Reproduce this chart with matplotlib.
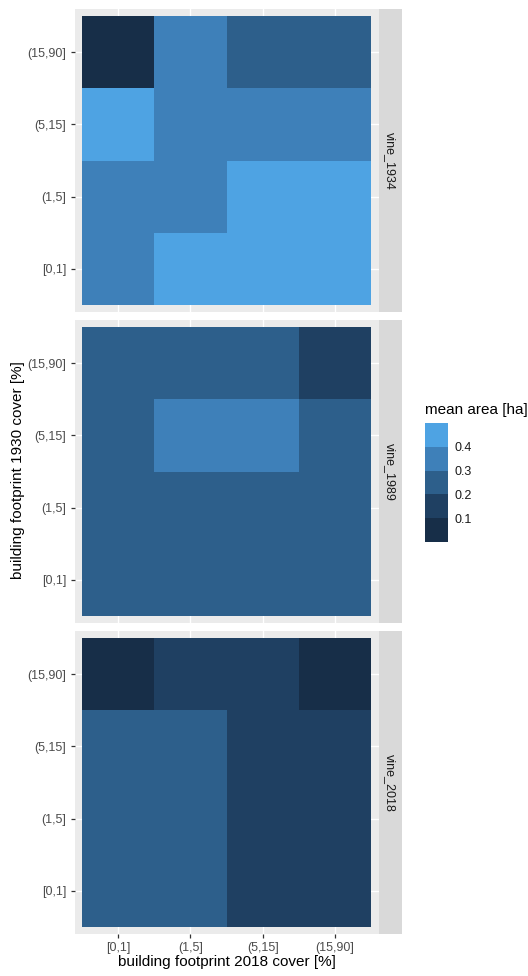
import numpy as np
import matplotlib
matplotlib.use("Agg")
import matplotlib.pyplot as plt
from matplotlib.colors import ListedColormap, BoundaryNorm

plt.rcParams['font.family'] = ['Liberation Sans', 'DejaVu Sans']

cover_bins = ['[0,1]', '(1,5]', '(5,15]', '(15,90]']
facets = ['vine_1934', 'vine_1989', 'vine_2018']

# rows: 1930 cover bins bottom -> top, cols: 2018 cover bins
vine_1934 = [[0.35, 0.45, 0.45, 0.45],
             [0.35, 0.35, 0.45, 0.45],
             [0.45, 0.35, 0.35, 0.35],
             [0.05, 0.35, 0.25, 0.25]]
vine_1989 = [[0.25, 0.25, 0.25, 0.25],
             [0.25, 0.25, 0.25, 0.25],
             [0.25, 0.35, 0.35, 0.25],
             [0.25, 0.25, 0.25, 0.15]]
vine_2018 = [[0.25, 0.25, 0.15, 0.15],
             [0.25, 0.25, 0.15, 0.15],
             [0.25, 0.25, 0.15, 0.15],
             [0.05, 0.15, 0.15, 0.05]]
facet_data = [vine_1934, vine_1989, vine_2018]

bounds = [0.0, 0.1, 0.2, 0.3, 0.4, 0.5]
colors = ['#172E48', '#1F4062', '#2D5F8B', '#3E80B9', '#4EA3E3']
cmap = ListedColormap(colors)
norm = BoundaryNorm(bounds, cmap.N)

W, H = 528, 976
fig = plt.figure(figsize=(W / 100, H / 100), dpi=100)

def px_axes(left, top, right, bottom):
    return fig.add_axes([left / W, 1 - bottom / H, (right - left) / W, (bottom - top) / H])

panel_tops = [9, 320, 631]
panel_h = 303
pl, pr = 74.5, 378.5
txt_col = '#4D4D4D'

edges = np.arange(len(cover_bins) + 1) + 0.5
for i, (name, vals) in enumerate(zip(facets, facet_data)):
    top = panel_tops[i]
    ax = px_axes(pl, top, pr, top + panel_h)
    ax.set_facecolor('#EBEBEB')
    ax.pcolormesh(edges, edges, np.array(vals), cmap=cmap, norm=norm, zorder=2)
    ax.set_xlim(0.4, 4.6)
    ax.set_ylim(0.4, 4.6)
    ticks = np.arange(1, 5)
    ax.set_xticks(ticks)
    ax.set_yticks(ticks)
    ax.set_yticklabels(cover_bins, fontsize=9, color=txt_col)
    ax.tick_params(length=3, width=0.9, color='#333333', pad=3)
    if i == 2:
        ax.set_xticklabels(cover_bins, fontsize=9, color=txt_col)
    else:
        ax.set_xticklabels([])
        ax.tick_params(axis='x', length=0)
    ax.grid(True, color='white', linewidth=1.0, zorder=1)
    ax.set_axisbelow(True)
    for s in ax.spines.values():
        s.set_visible(False)
    # facet strip
    sx = px_axes(pr + 0.5, top, pr + 23, top + panel_h)
    sx.set_facecolor('#D9D9D9')
    sx.set_xticks([])
    sx.set_yticks([])
    for s in sx.spines.values():
        s.set_visible(False)
    sx.text(0.5, 0.5, name, rotation=-90, ha='center', va='center',
            fontsize=9, color='#1A1A1A', transform=sx.transAxes)

fig.text(18 / W, 1 - 470 / H, 'building footprint 1930 cover [%]', rotation=90,
         ha='center', va='center', fontsize=11)
fig.text(227 / W, 1 - 962 / H, 'building footprint 2018 cover [%]',
         ha='center', va='center', fontsize=11)

# binned legend
cax = px_axes(425, 423, 448, 542)
cb = fig.colorbar(plt.cm.ScalarMappable(norm=norm, cmap=cmap), cax=cax,
                  boundaries=bounds, ticks=[0.1, 0.2, 0.3, 0.4])
cb.outline.set_visible(False)
cax.minorticks_off()
cax.tick_params(length=0, labelsize=9, labelcolor='#1A1A1A', pad=5)
cax.set_yticklabels(['0.1', '0.2', '0.3', '0.4'])
fig.text(425 / W, 1 - 410 / H, 'mean area [ha]', ha='left', va='center', fontsize=11)

fig.savefig('out.png', dpi=100, facecolor='white')
